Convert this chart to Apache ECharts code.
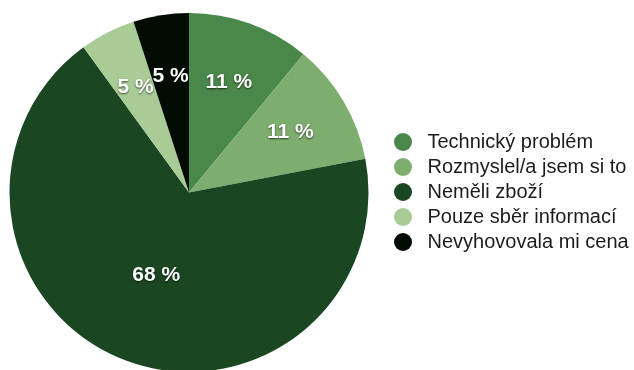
<!DOCTYPE html>
<html>
<head>
<meta charset="utf-8">
<script src="https://cdn.jsdelivr.net/npm/echarts@6/dist/echarts.min.js"></script>
<style>
  html, body { margin: 0; padding: 0; background: #fff; }
  #chart { width: 634px; height: 370px; }
</style>
</head>
<body>
<div id="chart"></div>
<script>
// Důvody nedokončení nákupu (podíl odpovědí v %)
const categories = [
  'Technický problém',
  'Rozmyslel/a jsem si to',
  'Neměli zboží',
  'Pouze sběr informací',
  'Nevyhovovala mi cena'
];
const values = [11, 11, 68, 5, 5];
const colors = ['#4a874a', '#7eae6f', '#1a4722', '#a9cb95', '#020c03'];

// slices whose label sits closer to the centre
const centreLabelIdx = [2];

const CX = 189, CY = 192.5, R = 179.5;
const FONT = 'Helvetica, Arial, "Liberation Sans", sans-serif';

const pieData = categories.map((name, i) => ({ name, value: values[i], itemStyle: { color: colors[i] } }));

const labelStyle = {
  position: 'inside',
  formatter: '{c} %',
  color: '#ffffff',
  fontFamily: FONT,
  fontSize: 21,
  fontWeight: 'bold',
  textShadowColor: 'rgba(0,0,0,0.65)',
  textShadowBlur: 2,
  textShadowOffsetY: 1
};

function labelLayer(radius, showIdx) {
  return {
    type: 'pie',
    center: [CX, CY],
    radius: radius,
    startAngle: 90,
    clockwise: true,
    silent: true,
    avoidLabelOverlap: false,
    labelLayout: { hideOverlap: false },
    z: 5,
    itemStyle: { color: 'transparent', borderWidth: 0 },
    label: labelStyle,
    labelLine: { show: false },
    emphasis: { disabled: true },
    data: categories.map((name, i) => ({
      name, value: values[i],
      itemStyle: { color: 'transparent' },
      label: { show: showIdx.includes(i) }
    }))
  };
}

const chart = echarts.init(document.getElementById('chart'), null, { renderer: 'canvas' });
chart.setOption({
  animation: false,
  backgroundColor: '#ffffff',
  legend: {
    orient: 'vertical',
    left: 389,
    top: 127,
    icon: 'circle',
    itemWidth: 39,
    itemHeight: 18,
    itemGap: 5,
    selectedMode: false,
    data: categories,
    textStyle: { fontFamily: FONT, fontSize: 20, lineHeight: 20, color: '#1c1c1c' }
  },
  series: [
    {
      type: 'pie',
      center: [CX, CY],
      radius: [0, R],
      startAngle: 90,
      clockwise: true,
      silent: true,
      label: { show: false },
      labelLine: { show: false },
      itemStyle: { borderWidth: 0 },
      data: pieData
    },
    labelLayer([50, R], categories.map((_, i) => i).filter(i => !centreLabelIdx.includes(i))),
    labelLayer([0, 172], centreLabelIdx)
  ]
});
</script>
</body>
</html>
